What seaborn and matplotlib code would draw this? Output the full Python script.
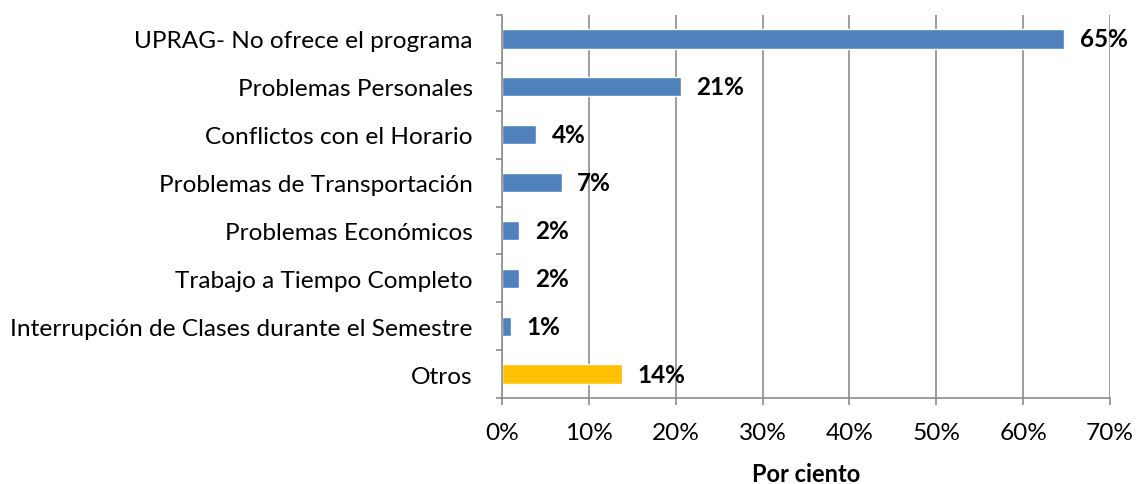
import matplotlib
matplotlib.use("Agg")
import matplotlib.pyplot as plt
import matplotlib.ticker as ticker
import seaborn as sns
import pandas as pd

# ── Data ───────────────────────────────────────────────────────────────────────
categories = [
    "UPRAG- No ofrece el programa",
    "Problemas Personales",
    "Conflictos con el Horario",
    "Problemas de Transportación",
    "Problemas Económicos",
    "Trabajo a Tiempo Completo",
    "Interrupción de Clases durante el Semestre",
    "Otros",
]
values = [64.75, 20.6, 3.95, 6.9, 2.0, 2.0, 1.0, 13.8]
value_labels = ["65%", "21%", "4%", "7%", "2%", "2%", "1%", "14%"]
bar_colors = ["#4F81BD"] * 7 + ["#FFC000"]
x_ticks = [0, 10, 20, 30, 40, 50, 60, 70]

df = pd.DataFrame({"Motivo": categories, "Por ciento": values})

sns.set_theme(style="white", rc={"text.color": "black", "xtick.color": "black",
                                 "ytick.color": "black", "axes.labelcolor": "black"})
plt.rcParams["font.family"] = ["Lato", "DejaVu Sans"]
FS = 17.6

fig = plt.figure(figsize=(11.36, 4.85), dpi=100)
ax = fig.add_axes([0.4419, 0.1773, 0.9771 - 0.4419, 0.967 - 0.1773])

sns.barplot(
    data=df, x="Por ciento", y="Motivo", hue="Motivo",
    palette=bar_colors, legend=False, width=0.4, orient="h",
    saturation=1, ax=ax,
)

# data labels next to each bar
for cont, lab in zip(ax.containers, value_labels):
    ax.bar_label(cont, labels=[lab], padding=11, fontsize=17.5, fontweight="bold")

ax.set_xlim(0, 70)
ax.set_ylim(7.5, -0.5)
ax.set_xticks(x_ticks)
ax.xaxis.set_major_formatter(ticker.FuncFormatter(lambda v, _: f"{int(v)}%"))
ax.set_yticks(range(len(categories)))
ax.set_yticklabels(categories)
ax.set_yticks([i - 0.5 for i in range(len(categories) + 1)], minor=True)

ax.grid(axis="x", color="#8c8c8c", linewidth=1.2)
ax.set_axisbelow(True)
for side in ["top", "right"]:
    ax.spines[side].set_visible(False)
for side in ["left", "bottom"]:
    ax.spines[side].set_color("#8c8c8c")
    ax.spines[side].set_linewidth(1.2)

ax.tick_params(axis="y", which="major", length=0, pad=21, labelsize=FS)
ax.tick_params(axis="y", which="minor", left=True, length=4, width=1.2, color="#8c8c8c")
ax.tick_params(axis="x", which="major", bottom=True, length=5, width=1.2,
               color="#8c8c8c", pad=12, labelsize=FS)

ax.set_ylabel("")
ax.set_xlabel("Por ciento", fontsize=17, fontweight="bold", labelpad=14)

fig.savefig("out.png", dpi=100)
